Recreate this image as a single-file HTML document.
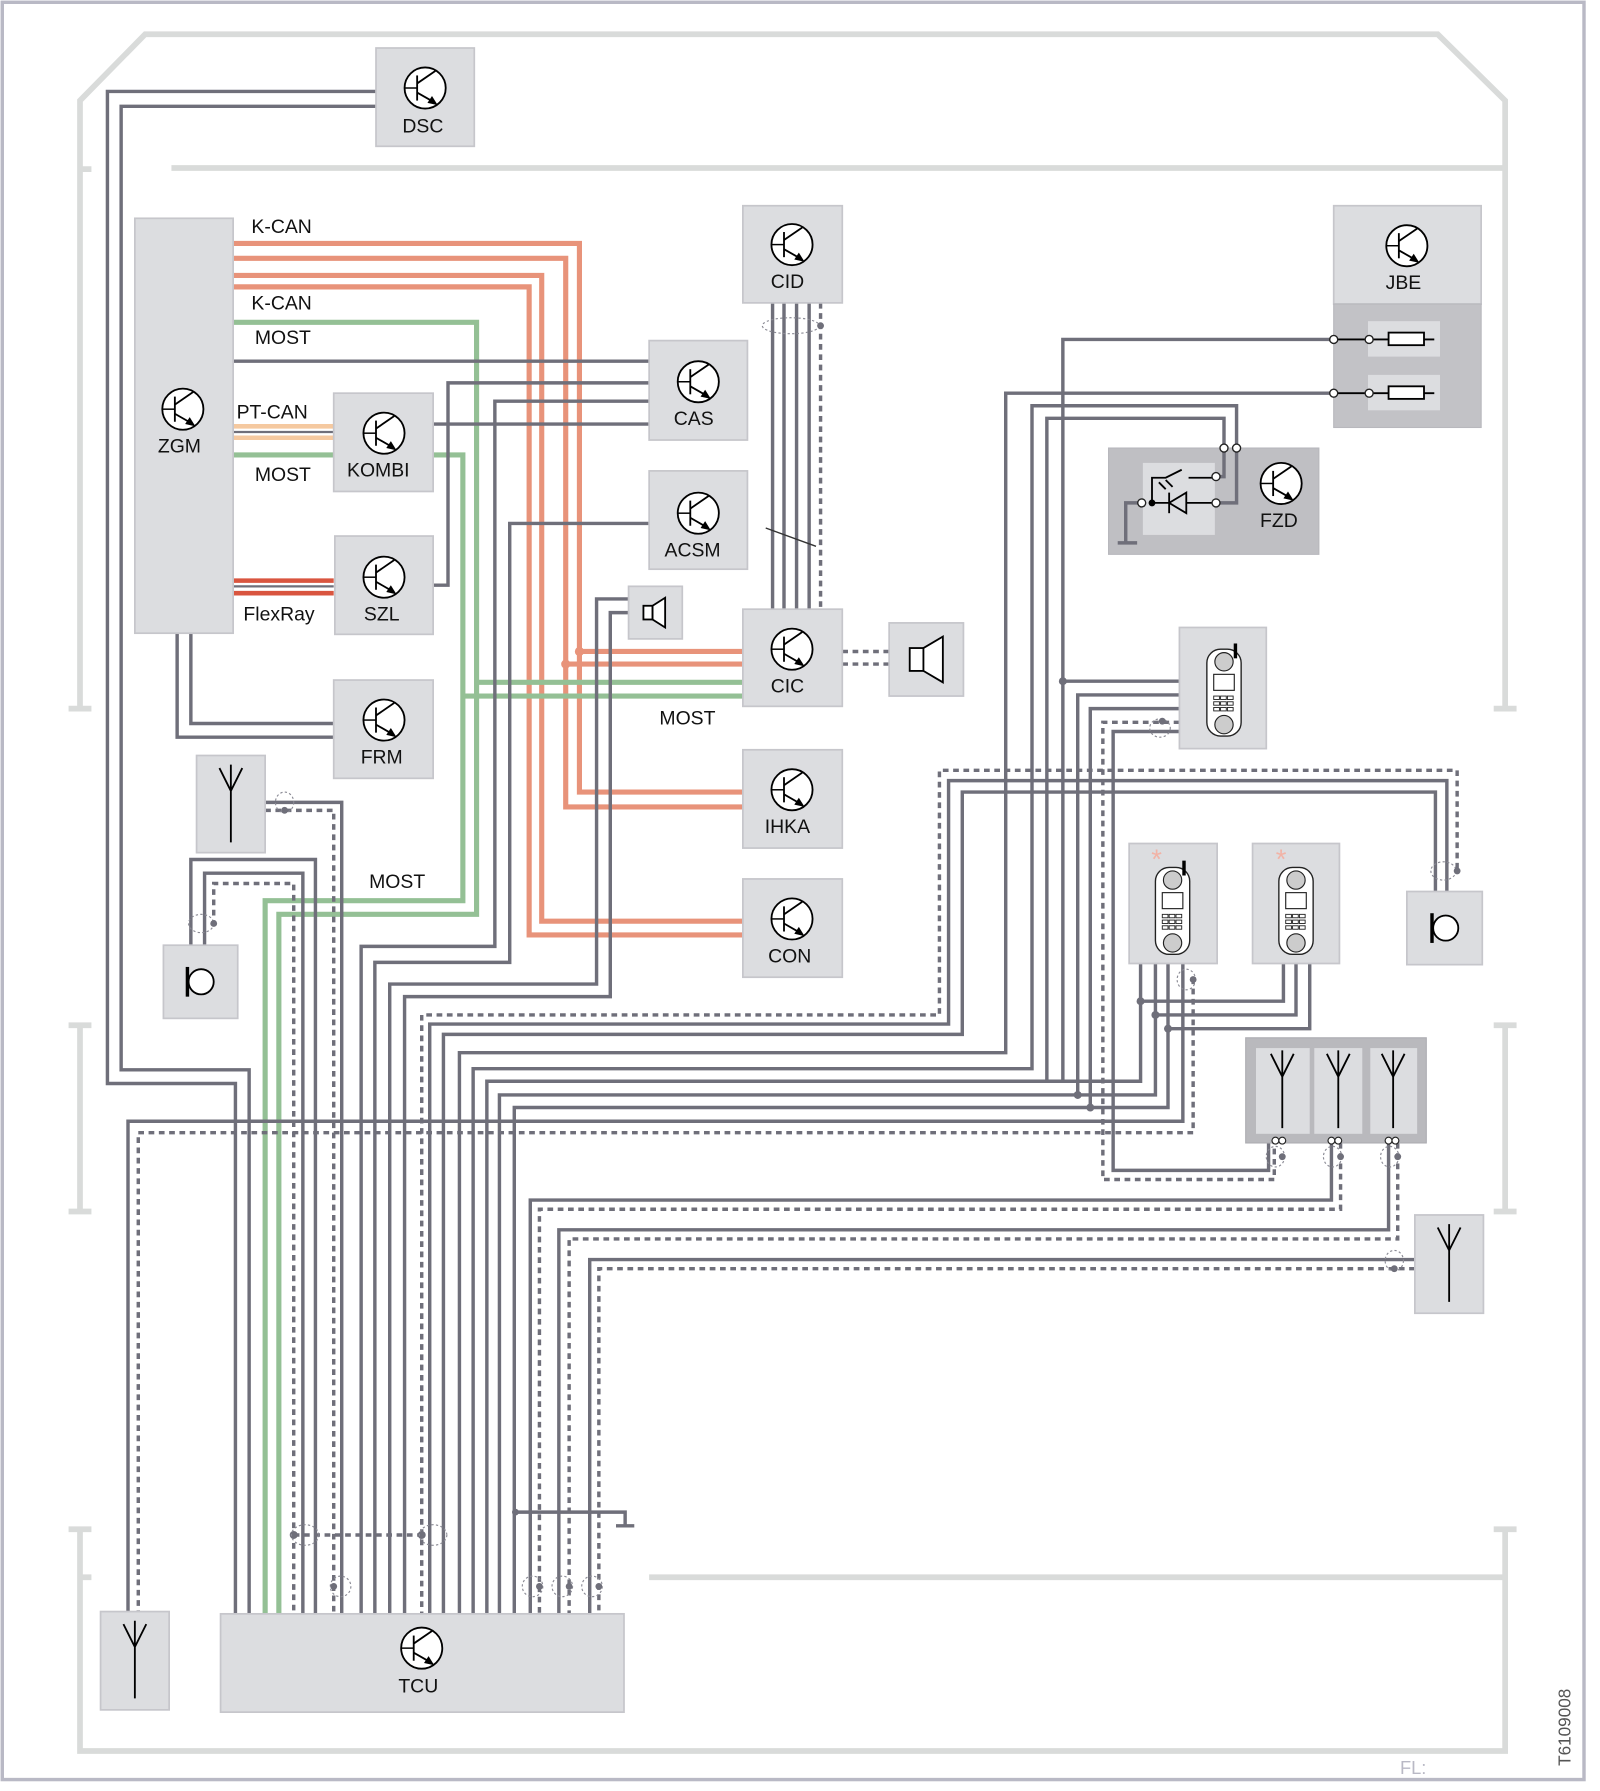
<!DOCTYPE html>
<html><head><meta charset="utf-8">
<style>
html,body{margin:0;padding:0;background:#fff;}
svg{display:block;}
text{font-family:"Liberation Sans",Arial,sans-serif;}
.w{stroke:#6f6f7a;stroke-width:3;fill:none;}
.d{stroke:#6f6f7a;stroke-width:3;fill:none;stroke-dasharray:5 4;}
.o{stroke:#e8937a;stroke-width:4.5;fill:none;}
.g{stroke:#94c095;stroke-width:4.5;fill:none;}
.f{stroke:#d9dbda;stroke-width:5;fill:none;}
.b{fill:#dcdde0;stroke:#c6c6cb;stroke-width:1.5;}
.e{fill:none;stroke:#8a8a94;stroke-width:1;stroke-dasharray:2 2;}
.k{stroke:#000;stroke-width:1.6;fill:none;}
.lbl{font-size:17px;fill:#111;text-anchor:middle;}
.wl{font-size:17px;fill:#111;}
</style></head>
<body>
<svg width="1600" height="1791" viewBox="0 0 1400 1567" preserveAspectRatio="none" xmlns="http://www.w3.org/2000/svg">
<defs>
<g id="t">
<circle cx="0" cy="0" r="18" fill="#fff" stroke="#000" stroke-width="1.6"/>
<line x1="-7" y1="-11" x2="-7" y2="11" stroke="#000" stroke-width="1.6"/>
<line x1="-18" y1="0" x2="-7" y2="0" stroke="#000" stroke-width="1.3"/>
<line x1="-7" y1="-4" x2="9" y2="-15" stroke="#000" stroke-width="1.6"/>
<line x1="-7" y1="4" x2="7" y2="12" stroke="#000" stroke-width="1.6"/>
<polygon points="11,15 2,13 6,7" fill="#000"/>
</g>
<g id="ant">
<path d="M0,-22 L0,40 M-10,-25 L0,-5 L10,-25 M0,-28 L0,-5" class="k" stroke-width="2"/>
</g>
<g id="mic">
<line x1="-12" y1="-13" x2="-12" y2="13" stroke="#000" stroke-width="3"/>
<circle cx="0" cy="0" r="11" fill="#fff" stroke="#000" stroke-width="1.6"/>
</g>
<g id="phone">
<rect x="-15" y="-38" width="30" height="76" rx="12" fill="#fff" stroke="#222" stroke-width="1.2"/>
<circle cx="0" cy="-27" r="8" fill="#ccc" stroke="#222" stroke-width="1"/>
<circle cx="0" cy="28" r="8" fill="#ccc" stroke="#222" stroke-width="1"/>
<rect x="-9" y="-16" width="18" height="14" fill="#fff" stroke="#222" stroke-width="1"/>
<g fill="#fff" stroke="#222" stroke-width="0.8">
<rect x="-9" y="3" width="5" height="3"/><rect x="-3" y="3" width="5" height="3"/><rect x="3" y="3" width="5" height="3"/>
<rect x="-9" y="8" width="5" height="3"/><rect x="-3" y="8" width="5" height="3"/><rect x="3" y="8" width="5" height="3"/>
<rect x="-9" y="13" width="5" height="3"/><rect x="-3" y="13" width="5" height="3"/><rect x="3" y="13" width="5" height="3"/>
</g>
</g>
</defs>

<!-- outer border -->
<rect x="2" y="2" width="1384" height="1555" fill="none" stroke="#b9b9c5" stroke-width="3"/>
<!-- inner frame -->
<path class="f" d="M70,620 L70,88 L127,30 L1258,30 L1317,88 L1317,620"/>
<path class="f" d="M60,620 L80,620 M1307,620 L1327,620 M70,148 L80,148 M150,147 L1317,147"/>
<path class="f" d="M70,897 L70,1060 M60,897 L80,897 M60,1060 L80,1060 M1317,897 L1317,1060 M1307,897 L1327,897 M1307,1060 L1327,1060"/>
<path class="f" d="M70,1338 L70,1532 L1317,1532 L1317,1338 M60,1338 L80,1338 M1307,1338 L1327,1338 M568,1380 L1317,1380 M70,1380 L80,1380"/>

<!-- orange K-CAN -->
<polyline class="o" points="204,213 507,213 507,693 650,693"/>
<polyline class="o" points="204,226 495,226 495,706 650,706"/>
<polyline class="o" points="204,241 474,241 474,806 650,806"/>
<polyline class="o" points="204,251 463,251 463,818 650,818"/>
<polyline class="o" points="507,570 650,570"/>
<polyline class="o" points="495,581 650,581"/>
<circle cx="507" cy="570" r="4" fill="#e8937a"/><circle cx="495" cy="581" r="4" fill="#e8937a"/>
<!-- PT-CAN / FlexRay -->
<line x1="204" y1="373" x2="292" y2="373" stroke="#f5c9a0" stroke-width="4"/>
<line x1="204" y1="383" x2="292" y2="383" stroke="#f5c9a0" stroke-width="4"/>
<line x1="204" y1="378" x2="292" y2="378" stroke="#6f6f7a" stroke-width="2"/>
<line x1="204" y1="508" x2="292" y2="508" stroke="#d9553f" stroke-width="4"/>
<line x1="204" y1="519" x2="292" y2="519" stroke="#d9553f" stroke-width="4"/>
<line x1="204" y1="513" x2="292" y2="513" stroke="#6f6f7a" stroke-width="2"/>
<!-- green MOST -->
<polyline class="g" points="204,282 417,282 417,800 244,800 244,1412"/>
<polyline class="g" points="204,398 292,398"/>
<polyline class="g" points="379,398 405,398 405,788 232,788 232,1412"/>
<polyline class="g" points="417,597 650,597"/>
<polyline class="g" points="405,609 650,609"/>

<!-- dark wires left -->
<polyline class="w" points="329,80 94,80 94,948 206,948 206,1412"/>
<polyline class="w" points="329,93 106,93 106,936 218,936 218,1412"/>
<polyline class="w" points="155,554 155,645 292,645"/>
<polyline class="w" points="167,554 167,633 292,633"/>
<polyline class="w" points="204,316 568,316"/>
<polyline class="w" points="568,335 392,335 392,512 379,512"/>
<polyline class="w" points="568,351 433,351 433,828 316,828 316,1412"/>
<polyline class="w" points="379,371 568,371"/>
<polyline class="w" points="568,458 446,458 446,842 328,842 328,1412"/>
<polyline class="w" points="550,524 522,524 522,861 341,861 341,1412"/>
<polyline class="w" points="550,536 534,536 534,872 354,872 354,1412"/>
<polyline class="w" points="232,702 299,702 299,1412"/>
<polyline class="d" points="232,709 292,709 292,1412"/>
<polyline class="w" points="167,827 167,752 276,752 276,1412"/>
<polyline class="w" points="179,827 179,764 265,764 265,1412"/>
<polyline class="d" points="187,810 187,773 257,773 257,1412"/>
<ellipse class="e" cx="249" cy="702" rx="8" ry="9"/><circle cx="249" cy="709" r="3" fill="#6f6f7a"/>
<ellipse class="e" cx="176" cy="808" rx="11" ry="8"/><circle cx="187" cy="808" r="3" fill="#6f6f7a"/>

<!-- CID-CIC -->
<path class="w" d="M676,265 L676,533 M686,265 L686,533 M697,265 L697,533 M708,265 L708,533"/>
<path class="d" d="M718,265 L718,533"/>
<ellipse class="e" cx="692" cy="285" rx="25" ry="7"/><circle cx="718" cy="285" r="3" fill="#6f6f7a"/>
<line x1="670" y1="462" x2="714" y2="478" stroke="#333" stroke-width="1.2"/>
<path class="d" d="M737,570 L778,570 M737,581 L778,581"/>

<!-- right group -->
<polyline class="d" points="1275,760 1275,674 822,674 822,888 369,888 369,1412"/>
<polyline class="w" points="1266,780 1266,683 830,683 830,896 376,896 376,1412"/>
<polyline class="w" points="1256,780 1256,693 842,693 842,905 388,905 388,1412"/>
<ellipse class="e" cx="1263" cy="762" rx="11" ry="8"/><circle cx="1275" cy="762" r="3" fill="#6f6f7a"/>
<polyline class="w" points="1167,297 930,297 930,946"/>
<polyline class="w" points="1167,344 880,344 880,921 402,921 402,1412"/>
<polyline class="w" points="1082,392 1082,355 903,355 903,935 414,935 414,1412"/>
<polyline class="w" points="1071,392 1071,366 916,366 916,946"/>
<polyline class="w" points="998,843 998,946 426,946 426,1412"/>
<polyline class="w" points="1011,843 1011,958 437,958 437,1412"/>
<polyline class="w" points="1022,843 1022,969 450,969 450,1412"/>
<polyline class="w" points="1123,843 1123,876 998,876"/>
<polyline class="w" points="1134,843 1134,888 1011,888"/>
<polyline class="w" points="1146,843 1146,900 1022,900"/>
<circle cx="998" cy="876" r="3.5" fill="#6f6f7a"/><circle cx="1011" cy="888" r="3.5" fill="#6f6f7a"/><circle cx="1022" cy="900" r="3.5" fill="#6f6f7a"/>
<polyline class="w" points="1035,843 1035,981 112,981 112,1410"/>
<polyline class="d" points="1044,856 1044,991 121,991 121,1410"/>
<ellipse class="e" cx="1038" cy="857" rx="8" ry="9"/><circle cx="1044" cy="857" r="3" fill="#6f6f7a"/>
<polyline class="w" points="1032,596 930,596"/>
<circle cx="930" cy="596" r="3.5" fill="#6f6f7a"/>
<polyline class="w" points="1032,608 943,608 943,958"/>
<polyline class="w" points="1032,620 954,620 954,969"/>
<circle cx="943" cy="958" r="3.5" fill="#6f6f7a"/><circle cx="954" cy="969" r="3.5" fill="#6f6f7a"/>
<polyline class="d" points="1032,632 965,632 965,1032 1115,1032 1115,1000"/>
<polyline class="w" points="1032,640 974,640 974,1024 1110,1024 1110,1000"/>
<ellipse class="e" cx="1015" cy="637" rx="9" ry="8"/><circle cx="1017" cy="631" r="3" fill="#6f6f7a"/>
<polyline class="w" points="1165,1000 1165,1050 464,1050 464,1412"/>
<polyline class="d" points="1173,1000 1173,1058 472,1058 472,1412"/>
<polyline class="w" points="1215,1000 1215,1076 489,1076 489,1412"/>
<polyline class="d" points="1223,1000 1223,1084 498,1084 498,1412"/>
<polyline class="w" points="1238,1102 516,1102 516,1412"/>
<polyline class="d" points="1238,1110 524,1110 524,1412"/>
<ellipse class="e" cx="1220" cy="1103" rx="8" ry="9"/><circle cx="1220" cy="1110" r="3" fill="#6f6f7a"/>
<ellipse class="e" cx="1116" cy="1012" rx="8" ry="9"/><circle cx="1122" cy="1012" r="3" fill="#6f6f7a"/>
<ellipse class="e" cx="1166" cy="1012" rx="8" ry="9"/><circle cx="1173" cy="1012" r="3" fill="#6f6f7a"/>
<ellipse class="e" cx="1216" cy="1012" rx="8" ry="9"/><circle cx="1223" cy="1012" r="3" fill="#6f6f7a"/>

<!-- TCU area connectors -->
<polyline class="d" points="257,1343 369,1343"/>
<circle cx="257" cy="1343" r="3.5" fill="#6f6f7a"/><circle cx="369" cy="1343" r="3.5" fill="#6f6f7a"/>
<ellipse class="e" cx="267" cy="1343" rx="12" ry="9"/><ellipse class="e" cx="379" cy="1343" rx="12" ry="9"/>
<ellipse class="e" cx="298" cy="1388" rx="9" ry="9"/><circle cx="292" cy="1388" r="3" fill="#6f6f7a"/>
<ellipse class="e" cx="466" cy="1388" rx="9" ry="9"/><circle cx="472" cy="1388" r="3" fill="#6f6f7a"/>
<ellipse class="e" cx="492" cy="1388" rx="9" ry="9"/><circle cx="498" cy="1388" r="3" fill="#6f6f7a"/>
<ellipse class="e" cx="518" cy="1388" rx="9" ry="9"/><circle cx="524" cy="1388" r="3" fill="#6f6f7a"/>
<polyline class="w" points="451,1323 547,1323 547,1335"/>
<line x1="539" y1="1335" x2="555" y2="1335" stroke="#6f6f7a" stroke-width="3"/>
<circle cx="451" cy="1323" r="3" fill="#6f6f7a"/>

<!-- boxes -->
<rect class="b" x="329" y="42" width="86" height="86"/>
<rect class="b" x="118" y="191" width="86" height="363"/>
<rect class="b" x="650" y="180" width="87" height="85"/>
<rect class="b" x="568" y="298" width="86" height="87"/>
<rect class="b" x="292" y="344" width="87" height="86"/>
<rect class="b" x="568" y="412" width="86" height="86"/>
<rect class="b" x="293" y="469" width="86" height="86"/>
<rect class="b" x="550" y="513" width="47" height="46"/>
<rect class="b" x="650" y="533" width="87" height="85"/>
<rect class="b" x="778" y="545" width="65" height="64"/>
<rect class="b" x="292" y="595" width="87" height="86"/>
<rect class="b" x="650" y="656" width="87" height="86"/>
<rect class="b" x="650" y="769" width="87" height="86"/>
<rect class="b" x="172" y="661" width="60" height="85"/>
<rect class="b" x="143" y="827" width="65" height="64"/>
<rect class="b" x="1167" y="180" width="129" height="86"/>
<rect x="1167" y="266" width="129" height="108" fill="#c2c2c6" stroke="#b8b8bd"/>
<rect x="1197" y="281" width="63" height="31" fill="#dcdde0"/>
<rect x="1197" y="328" width="63" height="31" fill="#dcdde0"/>
<rect x="970" y="392" width="184" height="93" fill="#bfbfc3" stroke="#b8b8bd"/>
<rect x="1000" y="405" width="63" height="63" fill="#dcdde0"/>
<rect class="b" x="1032" y="549" width="76" height="106"/>
<rect class="b" x="988" y="738" width="77" height="105"/>
<rect class="b" x="1096" y="738" width="76" height="105"/>
<rect class="b" x="1231" y="780" width="66" height="64"/>
<rect x="1090" y="908" width="158" height="92" fill="#b9b9bd" stroke="#adadb2"/>
<rect x="1099" y="917" width="47" height="75" fill="#dcdde0"/>
<rect x="1150" y="917" width="42" height="75" fill="#dcdde0"/>
<rect x="1199" y="917" width="41" height="75" fill="#dcdde0"/>
<rect class="b" x="1238" y="1063" width="60" height="86"/>
<rect class="b" x="88" y="1410" width="60" height="86"/>
<rect class="b" x="193" y="1412" width="353" height="86"/>

<!-- JBE fuses -->
<g class="k" stroke-width="1.4">
<line x1="1167" y1="297" x2="1255" y2="297"/><rect x="1215" y="291" width="31" height="11" fill="#fff"/>
<line x1="1167" y1="344" x2="1255" y2="344"/><rect x="1215" y="338" width="31" height="11" fill="#fff"/>
</g>
<g fill="#fff" stroke="#222" stroke-width="1.2">
<circle cx="1167" cy="297" r="3.5"/><circle cx="1198" cy="297" r="3.5"/>
<circle cx="1167" cy="344" r="3.5"/><circle cx="1198" cy="344" r="3.5"/>
</g>
<!-- FZD internals -->
<g class="w" stroke-width="2.2">
<polyline points="1064,417 1071,417 1071,392"/>
<polyline points="1064,440 1082,440 1082,392"/>
<polyline points="999,440 985,440 985,475"/>
<line x1="978" y1="475" x2="995" y2="475"/>
</g>
<g class="k" stroke-width="1.3">
<polyline points="1008,440 1008,418 1020,418 1034,411"/>
<line x1="1040" y1="418" x2="1061" y2="418"/>
<line x1="1008" y1="440" x2="1061" y2="440"/>
<polygon points="1023,440 1038,431 1038,449" fill="#dcdde0"/>
<line x1="1023" y1="431" x2="1023" y2="449"/>
<line x1="1020" y1="428" x2="1014" y2="422"/><line x1="1026" y1="426" x2="1020" y2="420"/>
</g>
<circle cx="1008" cy="440" r="3" fill="#000"/>
<g fill="#fff" stroke="#222" stroke-width="1.2">
<circle cx="1064" cy="417" r="3.5"/><circle cx="1064" cy="440" r="3.5"/><circle cx="999" cy="440" r="3.5"/>
<circle cx="1071" cy="392" r="3.5"/><circle cx="1082" cy="392" r="3.5"/>
</g>

<!-- transistor icons -->
<use href="#t" x="372" y="77"/>
<use href="#t" x="160" y="358"/>
<use href="#t" x="693" y="214"/>
<use href="#t" x="611" y="334"/>
<use href="#t" x="336" y="379"/>
<use href="#t" x="611" y="449"/>
<use href="#t" x="336" y="505"/>
<use href="#t" x="693" y="568"/>
<use href="#t" x="336" y="630"/>
<use href="#t" x="693" y="691"/>
<use href="#t" x="693" y="804"/>
<use href="#t" x="1231" y="215"/>
<use href="#t" x="1121" y="423"/>
<use href="#t" x="369" y="1442"/>

<!-- labels -->
<text class="lbl" x="370" y="116">DSC</text>
<text class="lbl" x="157" y="396">ZGM</text>
<text class="lbl" x="689" y="252">CID</text>
<text class="lbl" x="607" y="372">CAS</text>
<text class="lbl" x="331" y="417">KOMBI</text>
<text class="lbl" x="606" y="487">ACSM</text>
<text class="lbl" x="334" y="543">SZL</text>
<text class="lbl" x="689" y="606">CIC</text>
<text class="lbl" x="334" y="668">FRM</text>
<text class="lbl" x="689" y="729">IHKA</text>
<text class="lbl" x="691" y="842">CON</text>
<text class="lbl" x="1228" y="253">JBE</text>
<text class="lbl" x="1119" y="461">FZD</text>
<text class="lbl" x="366" y="1481">TCU</text>
<text class="wl" x="220" y="204">K-CAN</text>
<text class="wl" x="220" y="271">K-CAN</text>
<text class="wl" x="223" y="301">MOST</text>
<text class="wl" x="207" y="366">PT-CAN</text>
<text class="wl" x="223" y="421">MOST</text>
<text class="wl" x="213" y="543">FlexRay</text>
<text class="wl" x="577" y="634">MOST</text>
<text class="wl" x="323" y="777">MOST</text>

<!-- speakers -->
<g class="k" stroke-width="1.2">
<rect x="563" y="530" width="8" height="12" fill="#fff"/><polygon points="571,530 582,523 582,549 571,542" fill="#fff"/>
<rect x="796" y="567" width="12" height="20" fill="#fff"/><polygon points="808,567 825,557 825,597 808,587" fill="#fff"/>
</g>
<!-- antennas -->
<use href="#ant" x="202" y="697"/>
<use href="#ant" x="118" y="1446"/>
<use href="#ant" x="1268" y="1099"/>
<use href="#ant" x="1122" y="947"/>
<use href="#ant" x="1171" y="947"/>
<use href="#ant" x="1219" y="947"/>
<g fill="#fff" stroke="#222" stroke-width="1">
<circle cx="1116" cy="998" r="3"/><circle cx="1122" cy="998" r="3"/>
<circle cx="1165" cy="998" r="3"/><circle cx="1171" cy="998" r="3"/>
<circle cx="1215" cy="998" r="3"/><circle cx="1221" cy="998" r="3"/>
</g>
<!-- mics -->
<use href="#mic" x="176" y="859"/>
<use href="#mic" x="1265" y="812"/>
<!-- phones -->
<use href="#phone" x="1071" y="606"/>
<line x1="1081" y1="563" x2="1081" y2="576" stroke="#000" stroke-width="3"/>
<use href="#phone" x="1026" y="797"/>
<line x1="1036" y1="753" x2="1036" y2="766" stroke="#000" stroke-width="3"/>
<use href="#phone" x="1134" y="797"/>
<text x="1012" y="760" font-size="24" fill="#f2b3a6" text-anchor="middle">*</text>
<text x="1121" y="760" font-size="24" fill="#f2b3a6" text-anchor="middle">*</text>

<!-- footer -->
<text x="1225" y="1552" font-size="16" fill="#b9b9c5">FL:</text>
<text x="1374" y="1545" font-size="15" fill="#555" transform="rotate(-90 1374 1545)">T6109008</text>
</svg>
</body></html>
